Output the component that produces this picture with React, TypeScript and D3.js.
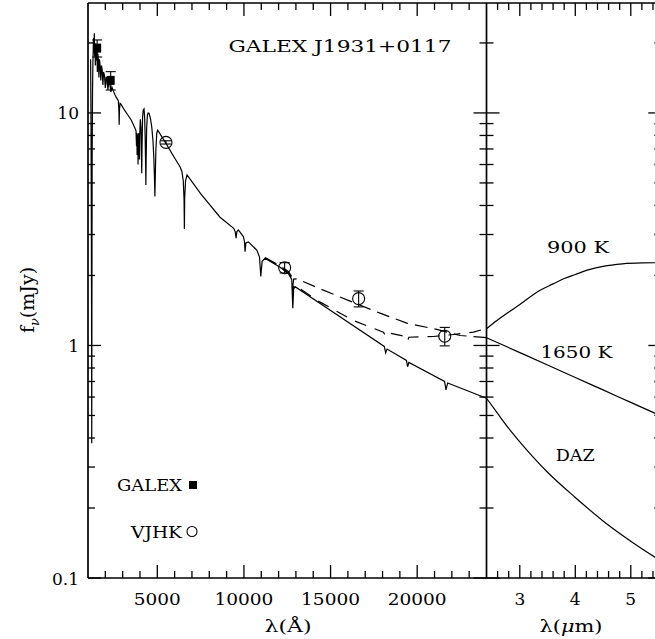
import React from 'react';
import * as d3 from 'd3';

// ---------- data ----------
// DAZ model spectrum, optical/near-IR (wavelength in Å, flux in mJy)
const dazOptical: [number, number][] = [
  [1150,17.0],[1175,9.0],[1195,3.0],[1208,1.0],[1216,0.38],[1224,1.2],[1240,6.5],[1260,12],[1280,16],
  [1300,18.5],[1320,21],[1340,19],[1364,22],[1380,17.5],[1400,20],[1425,16],[1450,19.5],[1480,16.8],
  [1510,19],[1540,15],[1570,18],[1600,16.8],[1630,14.2],[1660,17],[1700,16],[1740,13.8],[1780,16],
  [1820,15.3],[1860,13.2],[1900,15],[1950,14.5],[2000,12.8],[2050,14.3],[2100,13.8],[2150,12.6],
  [2200,13.7],[2260,13.3],[2320,12.3],[2380,12.9],[2450,12.5],[2550,12.0],[2650,11.6],[2750,11.3],
  [2785,10.2],[2800,8.9],[2815,10.3],[2850,11.0],[2900,10.9],[3100,10.3],[3300,9.8],[3500,9.3],
  [3714,8.6],[3770,8.4],[3800,7.2],[3820,8.2],[3835,6.6],[3850,8.1],[3875,7.4],[3889,6.0],[3905,7.9],
  [3935,8.2],[3955,7.2],[3970,6.3],[3985,8.0],[4020,9.4],[4060,8.6],[4085,6.6],[4102,5.5],[4118,7.0],
  [4150,9.6],[4190,10.3],[4234,10.4],[4270,9.5],[4300,7.8],[4325,6.0],[4340,4.9],[4355,6.2],[4385,8.6],
  [4430,9.8],[4470,10.0],[4522,9.97],[4600,9.5],[4680,8.7],[4750,7.6],[4800,6.4],[4835,5.3],[4861,4.37],
  [4885,5.4],[4920,7.0],[4970,8.2],[5024,8.44],[5500,7.4],[6000,6.4],[6312,5.87],[6420,5.6],[6500,5.1],
  [6545,4.2],[6563,3.17],[6580,4.3],[6630,5.1],[6716,5.41],[7500,4.5],[8620,3.56],[9408,3.19],
  [9500,3.08],[9546,2.89],[9590,3.08],[9680,3.14],[9967,2.94],[10030,2.8],[10065,2.53],[10110,2.76],
  [10256,2.79],[10741,2.57],[10900,2.4],[10972,1.98],[11050,2.3],[11220,2.37],[12086,2.17],[12566,2.04],
  [12760,1.92],[12820,1.445],[12870,1.75],[12952,1.79],[14400,1.515],[18100,0.99],[18179,0.93],
  [18260,0.965],[19380,0.862],[19446,0.81],[19520,0.845],[21580,0.70],[21661,0.644],[21760,0.69],
  [24000,0.593],
];
// DAZ + 1650 K companion (Å, mJy)
const model1650Optical: [number, number][] = [
  [11220,2.39],[12086,2.20],[12566,2.08],[12760,1.98],[12820,1.80],[12870,1.93],[13050,1.935],
  [14395,1.753],[16130,1.551],[17860,1.377],[19400,1.247],[21130,1.172],[22480,1.104],[24000,1.08],
];
// DAZ + 900 K companion (Å, mJy)
const model900Optical: [number, number][] = [
  [11220,2.38],[12086,2.18],[12566,2.05],[12760,1.95],[12820,1.70],[12870,1.82],[13240,1.754],
  [14395,1.536],[16320,1.281],[18050,1.141],[18179,1.10],[18280,1.135],[19380,1.09],[19446,1.05],
  [19520,1.085],[20940,1.093],[22090,1.115],[23250,1.141],[24000,1.183],
];
// mid-IR continuation (µm, mJy)
const dazIR: [number, number][] = [
  [2.4,0.593],[2.6,0.51],[2.8,0.44],[3.0,0.385],[3.5,0.285],[4.0,0.222],[4.5,0.176],[5.0,0.144],[5.6,0.116],
];
const model1650IR: [number, number][] = [
  [2.4,1.08],[3.0,0.932],[3.5,0.824],[4.0,0.728],[4.5,0.644],[5.0,0.569],[5.6,0.491],
];
const model900IR: [number, number][] = [
  [2.4,1.18],[2.6,1.287],[3.0,1.50],[3.35,1.72],[3.6,1.84],[3.8,1.94],[4.0,2.02],[4.25,2.12],
  [4.5,2.19],[4.85,2.245],[5.2,2.265],[5.6,2.27],
];
// photometry: [wavelength Å, flux mJy, error mJy]
const galexPhot: [number, number, number][] = [[1528,19.0,1.6],[2310,13.8,1.25]];
const vjhkPhot: [number, number, number][] = [[5500,7.47,0.12],[12350,2.16,0.11],[16620,1.59,0.125],[21590,1.096,0.1]];

const xTicksA = [5000, 10000, 15000, 20000];
const xTicksUm = [3, 4, 5];
const yTicks = [0.1, 1, 10];
const yTickLabels = ['0.1', '1', '10'];
const curveLabels = [
  { text: '900 K', um: 4.05, f: 2.50, w: 62 },
  { text: '1650 K', um: 4.02, f: 0.884, w: 72 },
  { text: 'DAZ', um: 4.0, f: 0.318, w: 39 },
];

// ---------- layout ----------
const W = 655, H = 639;
const LEFT = 88, MID = 486.5, RIGHT = 661.3, TOP = 3, BOTTOM = 578;
const FONT = 'DejaVu Serif, serif';

const xA = d3.scaleLinear().domain([1000, 24000]).range([LEFT, MID]);
const xU = d3.scaleLinear().domain([2.4, 5.55]).range([MID, RIGHT]);
const y = d3.scaleLog().domain([0.1, 29.7]).range([BOTTOM, TOP]);

const lineA = d3.line<[number, number]>().x(d => xA(d[0])).y(d => y(d[1]));
const lineU = d3.line<[number, number]>().x(d => xU(d[0])).y(d => y(d[1])).curve(d3.curveMonotoneX);

export default function App() {
  const majLen = 13, minLen = 7;
  const ticks: JSX.Element[] = [];
  let k = 0;
  for (let v = 2000; v <= 23000; v += 1000) {
    const len = v % 5000 === 0 ? majLen : minLen;
    const xx = xA(v);
    ticks.push(<line key={k++} x1={xx} x2={xx} y1={BOTTOM} y2={BOTTOM - len} />);
    ticks.push(<line key={k++} x1={xx} x2={xx} y1={TOP} y2={TOP + len} />);
  }
  for (let i = 13; i <= 27; i++) {
    const v = i * 0.2;
    const len = i % 5 === 0 ? majLen : minLen;
    const xx = xU(v);
    ticks.push(<line key={k++} x1={xx} x2={xx} y1={BOTTOM} y2={BOTTOM - len} />);
    ticks.push(<line key={k++} x1={xx} x2={xx} y1={TOP} y2={TOP + len} />);
  }
  const yv: [number, boolean][] = [];
  for (const dec of [0.1, 1, 10]) {
    for (let m = 1; m <= 9; m++) {
      const v = dec * m;
      if (v <= 29.7) yv.push([v, m === 1]);
    }
  }
  for (const [v, maj] of yv) {
    const len = maj ? majLen : minLen;
    const yy = y(v);
    ticks.push(<line key={k++} x1={LEFT} x2={LEFT + len} y1={yy} y2={yy} />);
    ticks.push(<line key={k++} x1={MID - len} x2={MID + len} y1={yy} y2={yy} />);
    ticks.push(<line key={k++} x1={RIGHT - len} x2={RIGHT} y1={yy} y2={yy} />);
  }

  const errBar = (x: number, f: number, e: number, key: string) => (
    <g key={key}>
      <line x1={x} x2={x} y1={y(f - e)} y2={y(f + e)} />
      <line x1={x - 5} x2={x + 5} y1={y(f - e)} y2={y(f - e)} />
      <line x1={x - 5} x2={x + 5} y1={y(f + e)} y2={y(f + e)} />
    </g>
  );

  return (
    <svg width={W} height={H} style={{ position: 'absolute', left: 0, top: 0, background: '#fff' }}
      fontFamily={FONT}>
      <defs>
        <clipPath id="clipA"><rect x={LEFT} y={TOP} width={MID - LEFT} height={BOTTOM - TOP} /></clipPath>
        <clipPath id="clipU"><rect x={MID} y={TOP} width={RIGHT - MID} height={BOTTOM - TOP} /></clipPath>
      </defs>
      <rect x={0} y={0} width={W} height={H} fill="#fff" />
      <g clipPath="url(#clipA)" fill="none" stroke="#000" strokeWidth={1.2}>
        <path d={lineA(dazOptical) || ''} />
        <path d={lineA(model1650Optical) || ''} strokeDasharray="13,7" />
        <path d={lineA(model900Optical) || ''} strokeDasharray="12,9" />
      </g>
      <g clipPath="url(#clipU)" fill="none" stroke="#000" strokeWidth={1.2}>
        <path d={lineU(dazIR) || ''} />
        <path d={lineU(model1650IR) || ''} />
        <path d={lineU(model900IR) || ''} />
      </g>
      <g stroke="#000" strokeWidth={1.1} fill="none">
        {galexPhot.map((d, i) => errBar(xA(d[0]), d[1], d[2], 'ge' + i))}
        {vjhkPhot.map((d, i) => errBar(xA(d[0]), d[1], d[2], 've' + i))}
        {vjhkPhot.map((d, i) => <circle key={'vc' + i} cx={xA(d[0])} cy={y(d[1])} r={6} />)}
      </g>
      {galexPhot.map((d, i) => (
        <rect key={'gs' + i} x={xA(d[0]) - 4} y={y(d[1]) - 4.5} width={8} height={9} fill="#000" />
      ))}
      <g stroke="#000" strokeWidth={1.3}>{ticks}</g>
      <g stroke="#000" strokeWidth={1.7} fill="none">
        <line x1={LEFT} x2={RIGHT} y1={TOP} y2={TOP} />
        <line x1={LEFT} x2={RIGHT} y1={BOTTOM} y2={BOTTOM} />
        <line x1={LEFT} x2={LEFT} y1={TOP} y2={BOTTOM} />
        <line x1={MID} x2={MID} y1={TOP} y2={BOTTOM} />
        <line x1={RIGHT} x2={RIGHT} y1={TOP} y2={BOTTOM} />
      </g>
      <g fontSize={17} fill="#000" textAnchor="middle">
        {xTicksA.map(v => {
          const s = String(v);
          return <text key={'xa' + v} x={xA(v)} y={605} textLength={12 * s.length - 1} lengthAdjust="spacingAndGlyphs">{s}</text>;
        })}
        {xTicksUm.map(v => <text key={'xu' + v} x={xU(v)} y={605}>{v}</text>)}
      </g>
      <g fontSize={17} fill="#000" textAnchor="end">
        {yTicks.map((v, i) => (
          <text key={'yt' + v} x={79} y={y(v) + 6.5}>{yTickLabels[i]}</text>
        ))}
      </g>
      <text x={288} y={632} fontSize={17} textAnchor="middle" textLength={47} lengthAdjust="spacingAndGlyphs">λ(Å)</text>
      <text x={571} y={632} fontSize={17} textAnchor="middle" textLength={63} lengthAdjust="spacingAndGlyphs">
        λ(<tspan fontStyle="italic">μ</tspan>m)
      </text>
      <text transform="translate(34,300) rotate(-90)" fontSize={19} textAnchor="middle">
        f<tspan fontSize={13} fontStyle="italic" dy={5}>ν</tspan><tspan dy={-5}>(mJy)</tspan>
      </text>
      <text x={340} y={52} fontSize={17} textAnchor="middle" textLength={223} lengthAdjust="spacingAndGlyphs">GALEX J1931+0117</text>
      {curveLabels.map(l => (
        <text key={l.text} x={xU(l.um)} y={y(l.f)} fontSize={17} textAnchor="middle"
          textLength={l.w} lengthAdjust="spacingAndGlyphs">{l.text}</text>
      ))}
      <text x={182} y={491} fontSize={17} textAnchor="end" textLength={65} lengthAdjust="spacingAndGlyphs">GALEX</text>
      <rect x={189} y={481} width={8} height={8} fill="#000" />
      <text x={182} y={538} fontSize={17} textAnchor="end" textLength={51} lengthAdjust="spacingAndGlyphs">VJHK</text>
      <circle cx={192} cy={531.5} r={5} fill="none" stroke="#000" strokeWidth={1.1} />
    </svg>
  );
}
